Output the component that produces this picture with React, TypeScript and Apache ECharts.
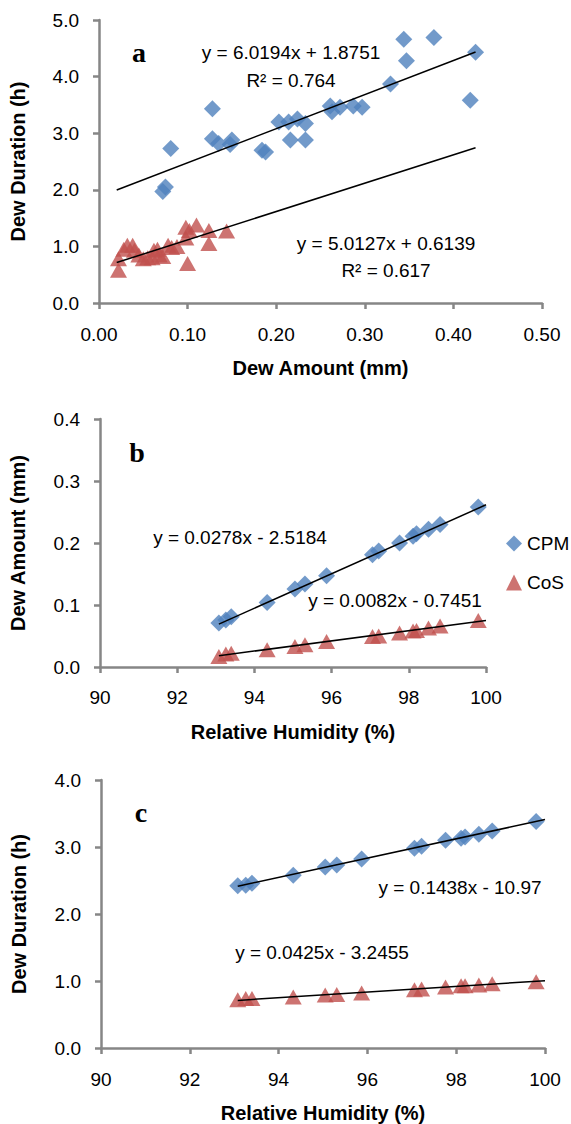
import React, { useEffect, useRef } from "react";
import * as echarts from "echarts";

// ---------- Panel a: Dew Amount (mm) vs Dew Duration (h) ----------
const aCpmAmount = [0.072, 0.075, 0.081, 0.128, 0.128, 0.135, 0.148, 0.150, 0.184, 0.188, 0.203, 0.214, 0.216, 0.224, 0.233, 0.233, 0.261, 0.263, 0.272, 0.287, 0.297, 0.329, 0.344, 0.347, 0.378, 0.419, 0.425];
const aCpmDuration = [1.97, 2.05, 2.73, 3.43, 2.90, 2.82, 2.80, 2.88, 2.70, 2.67, 3.20, 3.20, 2.88, 3.25, 3.17, 2.88, 3.48, 3.38, 3.46, 3.48, 3.46, 3.87, 4.66, 4.28, 4.69, 3.58, 4.43];
const aCosAmount = [0.022, 0.022, 0.028, 0.032, 0.038, 0.040, 0.045, 0.050, 0.055, 0.060, 0.062, 0.066, 0.068, 0.072, 0.078, 0.082, 0.088, 0.098, 0.098, 0.100, 0.102, 0.110, 0.124, 0.124, 0.144];
const aCosDuration = [0.58, 0.78, 0.95, 1.02, 1.02, 0.93, 0.85, 0.78, 0.80, 0.80, 0.93, 0.95, 0.85, 0.82, 1.02, 0.98, 1.00, 1.34, 1.15, 0.70, 1.28, 1.38, 1.28, 1.05, 1.27];
const aTrendRange = [0.02, 0.425];
const aCpmFit = [6.0194, 1.8751];
const aCosFit = [5.0127, 0.6139];

// ---------- Panels b & c: Relative Humidity (%) ----------
const rh = [93.08, 93.26, 93.40, 94.33, 95.05, 95.31, 95.87, 97.06, 97.22, 97.76, 98.11, 98.20, 98.51, 98.81, 99.80];
const bCpmAmount = [0.071, 0.076, 0.081, 0.104, 0.126, 0.134, 0.147, 0.181, 0.187, 0.200, 0.211, 0.215, 0.222, 0.230, 0.258];
const bCosAmount = [0.017, 0.021, 0.022, 0.028, 0.033, 0.036, 0.041, 0.049, 0.050, 0.055, 0.058, 0.059, 0.063, 0.066, 0.075];
const cCpmDuration = [2.42, 2.43, 2.46, 2.58, 2.70, 2.73, 2.82, 2.98, 3.01, 3.10, 3.13, 3.15, 3.19, 3.24, 3.38];
const cCosDuration = [0.72, 0.74, 0.74, 0.76, 0.79, 0.80, 0.82, 0.87, 0.88, 0.91, 0.93, 0.93, 0.94, 0.96, 0.99];
const rhTrendRange = [93.08, 100];
const bCpmFit = [0.0278, -2.5184];
const bCosFit = [0.0082, -0.7451];
const cCpmFit = [0.1438, -10.97];
const cCosFit = [0.0425, -3.2455];

const FONT = "'Liberation Sans', Arial, sans-serif";
const SERIF = "'Liberation Serif', 'Times New Roman', serif";
const BLUE = "#4F81BD";
const RED = "#C0504D";
const AXIS = "#868686";

const zip = (xs: number[], ys: number[]) => xs.map((x, i) => [x, ys[i]]);
const fitLine = (range: number[], fit: number[]) => range.map((x) => [x, fit[0] * x + fit[1]]);

function axis(gridIndex: number, min: number, max: number, interval: number, dec: number, name: string, nameGap: number, margin: number, isY: boolean) {
  return {
    type: "value",
    gridIndex,
    min,
    max,
    interval,
    name,
    nameLocation: "middle",
    nameGap,
    nameRotate: isY ? 90 : 0,
    nameTextStyle: { fontFamily: FONT, fontWeight: "bold", fontSize: 20, color: "#000" },
    axisLine: { show: true, onZero: false, lineStyle: { color: AXIS, width: 2.5 } },
    axisTick: { show: true, inside: false, length: 6, lineStyle: { color: AXIS, width: 2.5 } },
    axisLabel: {
      fontFamily: FONT,
      fontSize: 19,
      color: "#000",
      margin,
      formatter: (v: number) => v.toFixed(dec),
    },
    splitLine: { show: false },
  };
}

function scatter(name: string, idx: number, data: number[][], isCpm: boolean) {
  return {
    name,
    type: "scatter",
    xAxisIndex: idx,
    yAxisIndex: idx,
    data,
    symbol: isCpm ? "diamond" : "triangle",
    symbolSize: isCpm ? [17, 17] : [17, 15],
    itemStyle: { color: isCpm ? BLUE : RED },
    z: 2,
  };
}

function trend(name: string, idx: number, data: number[][]) {
  return {
    name,
    type: "line",
    xAxisIndex: idx,
    yAxisIndex: idx,
    data,
    symbol: "none",
    lineStyle: { color: "#000", width: 1.5 },
    z: 3,
  };
}

function txt(text: string, x: number, y: number, size = 19, font = FONT, weight = "normal") {
  return {
    type: "text",
    x,
    y,
    style: {
      text,
      fontFamily: font,
      fontSize: size,
      fontWeight: weight,
      fill: "#000",
      textAlign: "center",
      textVerticalAlign: "middle",
    },
    z: 10,
  };
}

export default function App() {
  const ref = useRef<HTMLDivElement>(null);
  useEffect(() => {
    if (!ref.current) return;
    const chart = echarts.init(ref.current, undefined, { renderer: "svg" });
    chart.setOption({
      animation: false,
      backgroundColor: "#fff",
      grid: [
        { left: 98, top: 20, width: 444, height: 283 },
        { left: 98, top: 419, width: 388, height: 248 },
        { left: 101, top: 780, width: 444, height: 268 },
      ],
      xAxis: [
        axis(0, 0, 0.5, 0.1, 2, "Dew Amount (mm)", 55, 22, false),
        axis(1, 90, 100, 2, 0, "Relative Humidity (%)", 55, 21, false),
        axis(2, 90, 100, 2, 0, "Relative Humidity (%)", 55, 22, false),
      ],
      yAxis: [
        axis(0, 0, 5, 1, 1, "Dew Duration (h)", 71, 20, true),
        axis(1, 0, 0.4, 0.1, 1, "Dew Amount (mm)", 72, 20, true),
        axis(2, 0, 4, 1, 1, "Dew Duration (h)", 72, 20, true),
      ],
      legend: {
        data: [
          { name: "CPM", icon: "diamond" },
          { name: "CoS", icon: "triangle" },
        ],
        orient: "vertical",
        left: 501,
        top: 529,
        itemWidth: 16,
        itemHeight: 16,
        itemGap: 20,
        selectedMode: false,
        textStyle: { fontFamily: FONT, fontSize: 19, color: "#000" },
      },
      series: [
        scatter("CPM", 0, zip(aCpmAmount, aCpmDuration), true),
        scatter("CoS", 0, zip(aCosAmount, aCosDuration), false),
        trend("a CPM fit", 0, fitLine(aTrendRange, aCpmFit)),
        trend("a CoS fit", 0, fitLine(aTrendRange, aCosFit)),
        scatter("CPM", 1, zip(rh, bCpmAmount), true),
        scatter("CoS", 1, zip(rh, bCosAmount), false),
        trend("b CPM fit", 1, fitLine(rhTrendRange, bCpmFit)),
        trend("b CoS fit", 1, fitLine(rhTrendRange, bCosFit)),
        scatter("CPM", 2, zip(rh, cCpmDuration), true),
        scatter("CoS", 2, zip(rh, cCosDuration), false),
        trend("c CPM fit", 2, fitLine(rhTrendRange, cCpmFit)),
        trend("c CoS fit", 2, fitLine(rhTrendRange, cCosFit)),
      ],
      graphic: [
        txt("a", 139, 52, 28, SERIF, "bold"),
        txt("b", 137, 452, 28, SERIF, "bold"),
        txt("c", 141, 812, 28, SERIF, "bold"),
        txt("y = 6.0194x + 1.8751", 291, 52),
        txt("R\u00B2 = 0.764", 291, 80),
        txt("y = 5.0127x + 0.6139", 386, 243),
        txt("R\u00B2 = 0.617", 386, 270),
        txt("y = 0.0278x - 2.5184", 240, 537),
        txt("y = 0.0082x - 0.7451", 395, 600),
        txt("y = 0.1438x - 10.97", 460, 887),
        txt("y = 0.0425x - 3.2455", 322, 952),
      ],
    });
    return () => chart.dispose();
  }, []);
  return <div ref={ref} style={{ position: "absolute", left: 0, top: 0, width: 571, height: 1124 }} />;
}
